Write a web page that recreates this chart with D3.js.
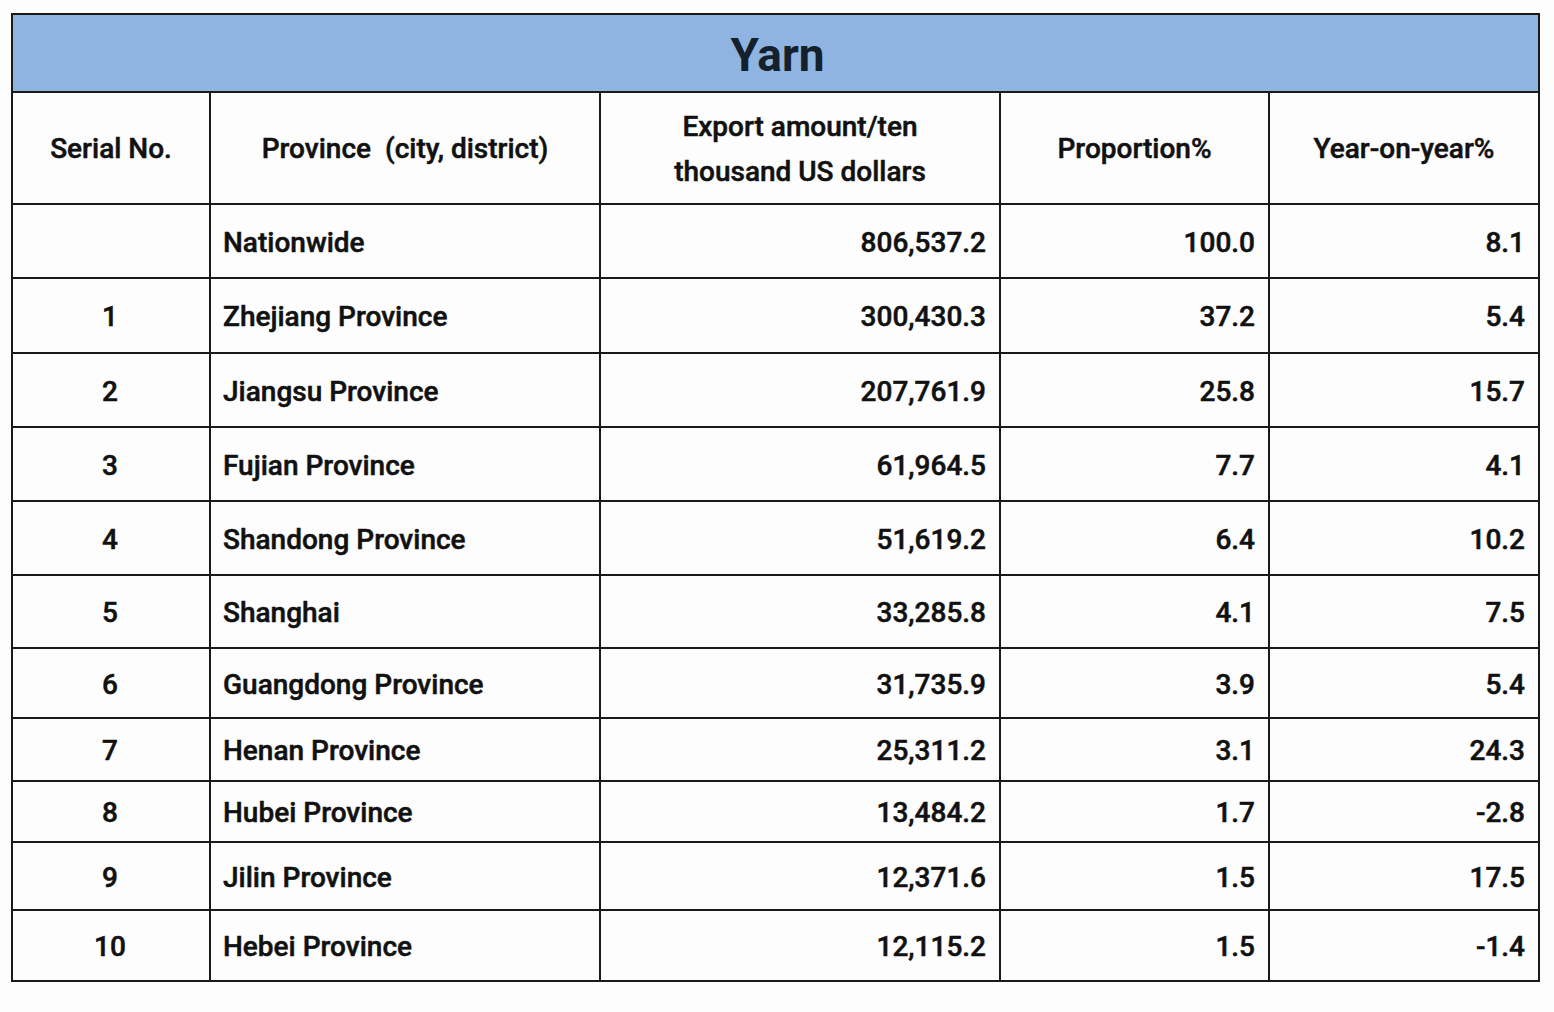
<html>

<head>
    <meta charset="utf-8">
    <script src="https://d3js.org/d3.v7.min.js"></script>
    <style>
        body { margin: 0; background: #fdfdfd; }
        text { font-family: Roboto, "Open Sans", sans-serif; fill: #111; }
        .cell { stroke: #111; stroke-width: 0.5px; }
    </style>
</head>

<body>
    <svg id="table" width="1554" height="1012"></svg>
    <script>
        // table content
        const title = "Yarn";
        const headers = ["Serial No.", "Province\u00a0\u00a0(city, district)", "Export amount/ten|thousand US dollars", "Proportion%", "Year-on-year%"];
        const serials = ["", "1", "2", "3", "4", "5", "6", "7", "8", "9", "10"];
        const provinces = ["Nationwide", "Zhejiang Province", "Jiangsu Province", "Fujian Province", "Shandong Province",
            "Shanghai", "Guangdong Province", "Henan Province", "Hubei Province", "Jilin Province", "Hebei Province"];
        const exportAmounts = [806537.2, 300430.3, 207761.9, 61964.5, 51619.2, 33285.8, 31735.9, 25311.2, 13484.2, 12371.6, 12115.2];
        const proportions = [100.0, 37.2, 25.8, 7.7, 6.4, 4.1, 3.9, 3.1, 1.7, 1.5, 1.5];
        const yoy = [8.1, 5.4, 15.7, 4.1, 10.2, 7.5, 5.4, 24.3, -2.8, 17.5, -1.4];

        // layout (widths of columns, heights of rows as in the picture)
        const colWidths = [198, 390, 400, 269, 270];
        const rowHeights = [74, 75, 74, 74, 74, 73, 70, 63, 61, 68, 71];
        const tLeft = 12, tTop = 14, titleH = 78, headH = 112;

        const svg = d3.select("#table");
        const xs = [tLeft].concat(Array.from(d3.cumsum(colWidths), d => tLeft + d));
        const bodyTop = tTop + titleH + headH;
        const ys = [bodyTop].concat(Array.from(d3.cumsum(rowHeights), d => bodyTop + d));
        const tRight = xs[xs.length - 1], tBottom = ys[ys.length - 1];

        const locale = d3.formatLocale({ decimal: ".", thousands: ",", grouping: [3], currency: ["", ""], minus: "-" });
        const fmtAmt = locale.format(",.1f");
        const fmt1 = locale.format(".1f");
        const rows = d3.range(provinces.length).map(i => [
            serials[i], provinces[i], fmtAmt(exportAmounts[i]), fmt1(proportions[i]), fmt1(yoy[i])
        ]);
        const align = ["middle", "start", "end", "end", "end"];
        const tx = (c) => align[c] === "middle" ? (xs[c] + xs[c + 1]) / 2 - 1 : align[c] === "start" ? xs[c] + 13 : xs[c + 1] - 14;

        // title band
        svg.append("rect").attr("x", tLeft).attr("y", tTop).attr("width", tRight - tLeft).attr("height", titleH)
            .attr("fill", "#8fb4e2");
        svg.append("text").attr("x", (tLeft + tRight) / 2 + 2).attr("y", tTop + titleH / 2 + 2)
            .attr("text-anchor", "middle").attr("dominant-baseline", "central")
            .style("font-size", "46px").style("font-weight", "bold").style("fill", "#14202c")
            .text(title);

        // header
        const head = svg.append("g");
        headers.forEach((h, c) => {
            const lines = h.split("|");
            const cy = tTop + titleH + headH / 2;
            head.append("text").attr("class", "cell")
                .attr("text-anchor", "middle").attr("dominant-baseline", "central")
                .style("font-size", "28px").style("font-weight", 500)
                .selectAll("tspan").data(lines).join("tspan")
                .attr("x", (xs[c] + xs[c + 1]) / 2)
                .attr("y", (d, i) => cy + (i - (lines.length - 1) / 2) * 45)
                .text(d => d);
        });

        // body cells
        const body = svg.append("g");
        rows.forEach((r, i) => {
            r.forEach((v, c) => {
                body.append("text").attr("class", "cell")
                    .attr("x", tx(c))
                    .attr("y", (ys[i] + ys[i + 1]) / 2 + 1)
                    .attr("text-anchor", align[c]).attr("dominant-baseline", "central")
                    .style("font-size", "28px").style("font-weight", 500)
                    .text(v);
            });
        });

        // grid lines
        const grid = svg.append("g").attr("stroke", "#1a1a1a").attr("stroke-width", 2).attr("fill", "none");
        grid.append("rect").attr("x", tLeft).attr("y", tTop).attr("width", tRight - tLeft).attr("height", tBottom - tTop);
        [tTop + titleH].concat(ys.slice(0, -1)).forEach(y => {
            grid.append("line").attr("x1", tLeft).attr("x2", tRight).attr("y1", y).attr("y2", y);
        });
        xs.slice(1, -1).forEach(x => {
            grid.append("line").attr("x1", x).attr("x2", x).attr("y1", tTop + titleH).attr("y2", tBottom);
        });
    </script>
</body>

</html>
